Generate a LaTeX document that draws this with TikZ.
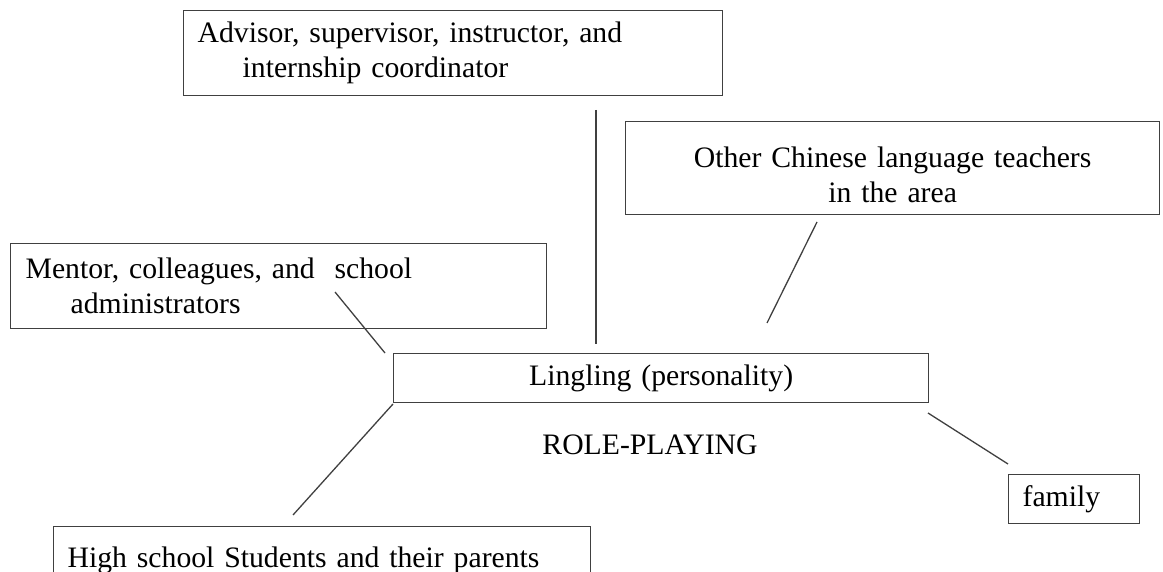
\documentclass[tikz,border=0pt]{standalone}
\usepackage{fontspec}
\setmainfont{Liberation Serif}
\begin{document}
\begin{tikzpicture}[x=1pt,y=-1pt,
  box/.style={draw=black!75, line width=1.3pt, inner sep=0pt, anchor=north west, font=\fontsize{29.7}{35}\selectfont},
  link/.style={draw=black!75, line width=1.3pt},
  lbl/.style={font=\fontsize{29.7}{35}\selectfont, inner sep=0pt}]
\useasboundingbox (0,0) rectangle (1163,572);
\clip (0,0) rectangle (1163,572);
\node[box, minimum width=539, minimum height=85, text width=511, align=left] (adv) at (183,10)
  {Advisor, supervisor, instructor, and\\\hspace*{45pt}internship coordinator};
\node[box, minimum width=534, minimum height=93, text width=506, align=center] (oth) at (625,121)
  {\rule{0pt}{34pt}Other Chinese language teachers\\in the area};
\node[box, minimum width=536, minimum height=85, text width=506, align=left] (men) at (10,243)
  {Mentor, colleagues, and\ \ school\\\hspace*{45pt}administrators};
\node[box, minimum width=535, minimum height=49, text width=507, align=center] (ling) at (393,353)
  {Lingling (personality)};
\node[lbl] (role) at (650,445) {ROLE-PLAYING};
\node[box, minimum width=131, minimum height=49, text width=103, align=left] (fam) at (1008,474)
  {family};
\node[box, minimum width=537, minimum height=68, text width=509, align=left] (hs) at (53,526)
  {High school Students and their parents};
\coordinate (a1) at (596,110); \coordinate (a2) at (596,344);
\coordinate (o1) at (817,222); \coordinate (o2) at (767,323);
\coordinate (m1) at (335,292); \coordinate (m2) at (385,353);
\coordinate (f1) at (928,413); \coordinate (f2) at (1008,464);
\coordinate (h1) at (393,404); \coordinate (h2) at (293,515);
\draw[link] (a1) -- (a2);
\draw[link] (o1) -- (o2);
\draw[link] (m1) -- (m2);
\draw[link] (f1) -- (f2);
\draw[link] (h1) -- (h2);
\end{tikzpicture}
\end{document}
